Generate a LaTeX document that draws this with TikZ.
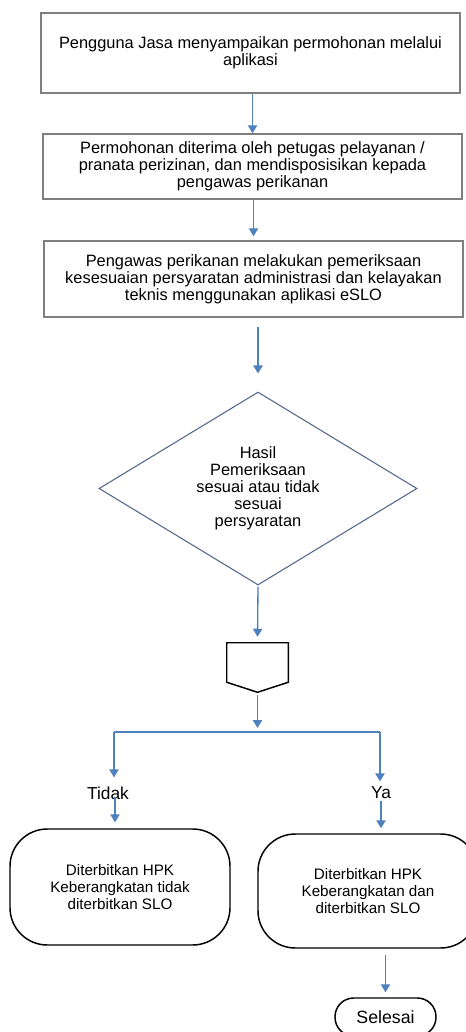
\documentclass[tikz,border=0pt]{standalone}
\usepackage{fontspec}
\setmainfont{Liberation Sans}
\usepackage{tikz}
\usetikzlibrary{arrows.meta,positioning,shapes.geometric}

\definecolor{flowblue}{HTML}{4F81BD}
\definecolor{boxgray}{HTML}{7F7F7F}
\definecolor{slate}{HTML}{52698A}

\begin{document}
\begin{tikzpicture}[
    x=0.75pt, y=-0.75pt,
    arrow/.style={-{Triangle[length=6pt, width=7pt]}, line width=1pt, flowblue},
    branch/.style={line width=1pt, flowblue},
    stepbox/.style={draw=boxgray, line width=1.1pt, minimum width=314pt, align=center,
        inner sep=0pt, font=\fontsize{12.3}{12.75}\selectfont},
    decision/.style={diamond, draw=slate, line width=0.8pt, aspect=1.65, inner sep=0pt,
        minimum width=238.5pt, minimum height=144.75pt, align=center,
        font=\fontsize{12.3}{12.75}\selectfont},
    terminal/.style={draw=black, line width=1.1pt, rounded corners=28pt, align=center,
        minimum width=165pt, inner sep=0pt, font=\fontsize{11.4}{12.75}\selectfont},
    branchlabel/.style={inner sep=0pt, font=\fontsize{13}{15}\selectfont}
]
\useasboundingbox (0,0) rectangle (465,1032);

% Process steps
\node[stepbox, minimum height=60pt] (apply) at (250.5,53)
    {Pengguna Jasa menyampaikan permohonan melalui\\aplikasi};
\node[stepbox, minimum height=48.75pt] (receive) at (252.5,166.5)
    {Permohonan diterima oleh petugas pelayanan /\\pranata perizinan, dan mendisposisikan kepada\\pengawas perikanan};
\node[stepbox, minimum height=57pt] (check) at (253.5,279)
    {Pengawas perikanan melakukan pemeriksaan\\kesesuaian persyaratan administrasi dan kelayakan\\teknis menggunakan aplikasi eSLO};

% Arrows between steps
\draw[arrow] (receive.north |- apply.south) -- (receive.north);
\draw[arrow, shorten >=3pt] (check.north |- receive.south) -- (check.north);

% Decision
\node[decision] (result) at (258,488.5)
    {Hasil\\Pemeriksaan\\sesuai atau tidak\\sesuai\\persyaratan};
\draw[arrow, shorten <=6.75pt, shorten >=13.5pt] (result.north |- check.south) -- (result.north);

% Off-page connector
\node[minimum width=45.75pt, minimum height=29.25pt, inner sep=0pt] (connector) at (257.5,662.5) {};
\draw[line width=1.1pt]
    (connector.north west) -- (connector.north east) -- (connector.south east)
    -- ([yshift=-7.5pt]connector.south) -- (connector.south west) -- cycle;
\draw[arrow, shorten <=0.75pt, shorten >=4.5pt] (result.south) -- (connector.north);

% Split into two branches
\coordinate (split) at (257.5,732);
\coordinate (splitleft) at (114,732);
\coordinate (splitright) at (380,732);
\draw[arrow, shorten <=2.25pt, shorten >=3pt] ([yshift=-7.5pt]connector.south) -- (split);
\draw[branch] (splitleft) -- (splitright);

\node[branchlabel] (no) at (108,793) {Tidak};
\node[branchlabel] (yes) at (381,793) {Ya};
\draw[arrow, shorten >=6.75pt] (splitleft) -- (splitleft |- no.north);
\draw[arrow, shorten >=4pt] (splitright) -- (splitright |- yes.north);

% Outcomes
\node[terminal, minimum height=87pt] (rejected) at (120,887)
    {Diterbitkan HPK\\Keberangkatan tidak\\diterbitkan SLO};
\node[terminal, minimum height=85.5pt] (issued) at (368,891)
    {Diterbitkan HPK\\Keberangkatan dan\\diterbitkan SLO};
\draw[arrow, shorten <=3pt, shorten >=4.5pt] ([xshift=0.75pt]splitleft |- no.center) -- ([xshift=0.75pt]splitleft |- rejected.north);
\draw[arrow, shorten <=6pt, shorten >=3.75pt] ([xshift=0.75pt]splitright |- yes.center) -- ([xshift=0.75pt]splitright |- issued.north);

% End
\node[terminal, rounded corners=14pt, minimum width=75.75pt, minimum height=28.5pt,
    font=\fontsize{13.3}{15}\selectfont] (finish) at (385.5,1017) {Selesai};
\draw[arrow, shorten <=4.5pt, shorten >=3.75pt] (finish.north |- issued.south) -- (finish.north);

\end{tikzpicture}
\end{document}
